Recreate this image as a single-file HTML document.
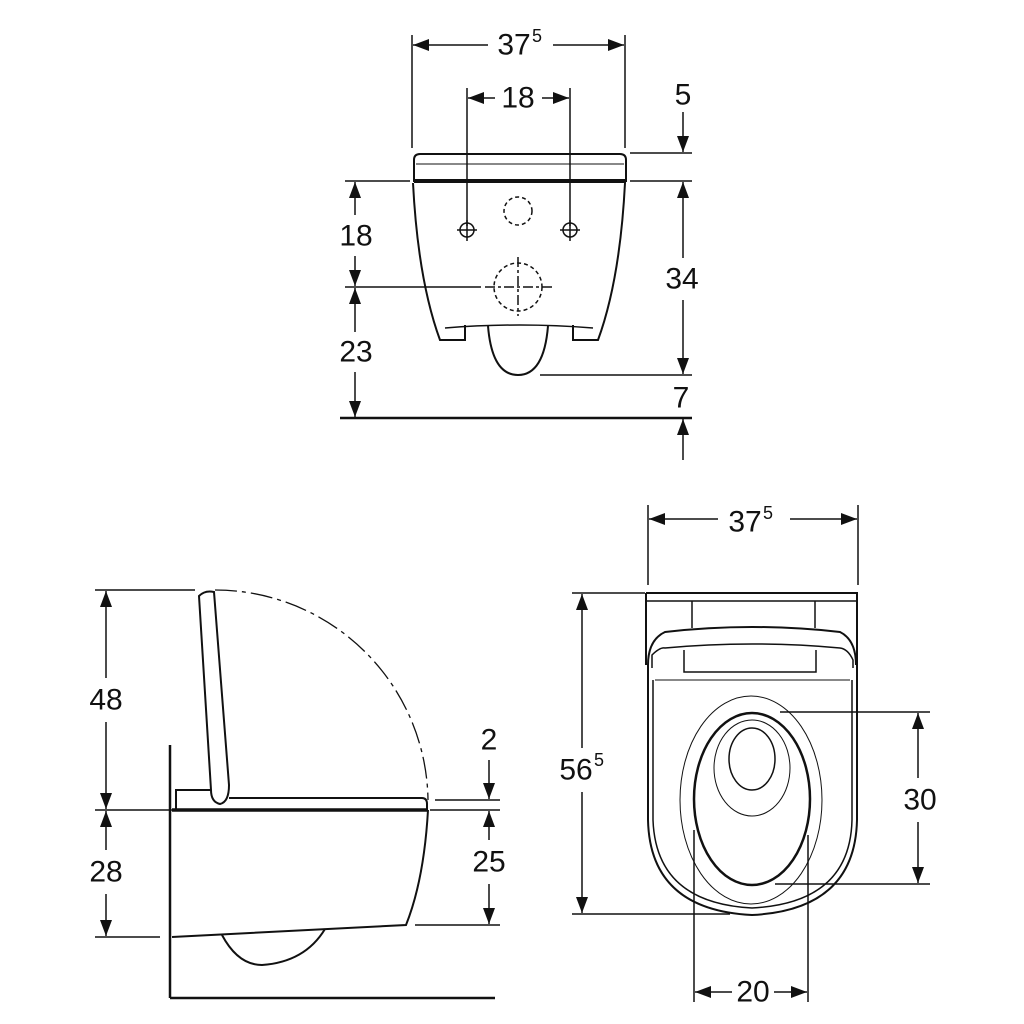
<!DOCTYPE html>
<html><head><meta charset="utf-8"><style>
html,body{margin:0;padding:0;background:#fff}
svg{display:block}
text{font-family:"Liberation Sans",sans-serif;font-size:30px;fill:#111;text-anchor:middle;dominant-baseline:central}
</style></head><body>
<svg width="1024" height="1024" viewBox="0 0 1024 1024" xmlns="http://www.w3.org/2000/svg">
<defs>
<marker id="a" viewBox="0 0 16 12" refX="16" refY="6" markerWidth="16" markerHeight="12" markerUnits="userSpaceOnUse" orient="auto-start-reverse"><path d="M0,0L16,6L0,12z" fill="#111"/></marker>
</defs>
<g stroke="#111" stroke-width="1.5" fill="none">
<!-- TOP VIEW -->
<line x1="412" y1="35" x2="412" y2="148"/><line x1="625" y1="35" x2="625" y2="148"/>
<line x1="413" y1="45" x2="488" y2="45" marker-start="url(#a)"/><line x1="553" y1="45" x2="624" y2="45" marker-end="url(#a)"/>
<line x1="467" y1="88" x2="467" y2="226"/><line x1="570" y1="88" x2="570" y2="226"/>
<line x1="468" y1="98" x2="495" y2="98" marker-start="url(#a)"/><line x1="542" y1="98" x2="569" y2="98" marker-end="url(#a)"/>
<path d="M414,181 V160 Q414,154 420,154 H620 Q626,154 626,160 V181 Z" stroke-width="2"/>
<line x1="414" y1="181" x2="626" y2="181" stroke-width="4"/>
<line x1="416" y1="164" x2="624" y2="164" stroke-width="1"/>
<path d="M413,183 Q418,280 440,340 H465 V325 M625,183 Q620,280 598,340 H573 V325" stroke-width="2"/>
<path d="M445,328 Q520,322 593,328" stroke-width="1.5"/>
<path d="M488,326 Q492,375 518,375 Q544,375 548,326" stroke-width="2"/>
<circle cx="518" cy="211" r="14" stroke-dasharray="4,3"/>
<circle cx="518" cy="287" r="24" stroke-dasharray="4,3"/>
<line x1="518" y1="257" x2="518" y2="316" stroke-dasharray="10,3,3,3"/>
<line x1="485" y1="287" x2="552" y2="287" stroke-dasharray="10,3,3,3"/>
<circle cx="467" cy="230" r="7"/><line x1="457" y1="230" x2="477" y2="230"/><line x1="467" y1="220" x2="467" y2="241"/>
<circle cx="570" cy="230" r="7"/><line x1="560" y1="230" x2="580" y2="230"/><line x1="570" y1="220" x2="570" y2="241"/>
<line x1="345" y1="181" x2="410" y2="181"/><line x1="345" y1="287" x2="481" y2="287"/>
<line x1="355" y1="182" x2="355" y2="215" marker-start="url(#a)"/><line x1="355" y1="256" x2="355" y2="286" marker-end="url(#a)"/>
<line x1="355" y1="288" x2="355" y2="332" marker-start="url(#a)"/><line x1="355" y1="372" x2="355" y2="417" marker-end="url(#a)"/>
<line x1="340" y1="418" x2="692" y2="418" stroke-width="2.5"/>
<line x1="630" y1="153" x2="692" y2="153"/><line x1="630" y1="181" x2="692" y2="181"/>
<line x1="683" y1="112" x2="683" y2="152" marker-end="url(#a)"/>
<line x1="683" y1="182" x2="683" y2="258" marker-start="url(#a)"/><line x1="683" y1="300" x2="683" y2="374" marker-end="url(#a)"/>
<line x1="540" y1="375" x2="692" y2="375"/>
<line x1="683" y1="460" x2="683" y2="419" marker-end="url(#a)"/>
<!-- SIDE VIEW -->
<line x1="95" y1="590" x2="195" y2="590"/><line x1="95" y1="810" x2="175" y2="810"/><line x1="95" y1="937" x2="160" y2="937"/>
<line x1="106" y1="591" x2="106" y2="678" marker-start="url(#a)"/><line x1="106" y1="722" x2="106" y2="809" marker-end="url(#a)"/>
<line x1="106" y1="811" x2="106" y2="850" marker-start="url(#a)"/><line x1="106" y1="894" x2="106" y2="936" marker-end="url(#a)"/>
<line x1="170" y1="745" x2="170" y2="998" stroke-width="2.5"/><line x1="170" y1="998" x2="495" y2="998" stroke-width="2.5"/>
<path d="M199,596 Q205,590 214,592 L229,785 Q229,802 220,804 Q211,802 211,790 Z" stroke-width="2"/>
<path d="M211,790 H176 V810" stroke-width="2"/>
<path d="M229,798 H422 Q427,798 427,804 V809" stroke-width="2"/>
<line x1="172" y1="810" x2="428" y2="810" stroke-width="3.5"/>
<path d="M428,810 Q424,880 406,925 L172,937" stroke-width="2"/>
<path d="M222,935 Q238,965 262,965 Q305,962 325,929" stroke-width="2"/>
<path d="M215,590 A213,213 0 0 1 428,800" stroke-dasharray="22,5,4,5" stroke-width="1.3"/>
<line x1="435" y1="800" x2="500" y2="800"/><line x1="430" y1="810" x2="500" y2="810"/><line x1="415" y1="925" x2="500" y2="925"/>
<line x1="489" y1="760" x2="489" y2="799" marker-end="url(#a)"/>
<line x1="489" y1="811" x2="489" y2="840" marker-start="url(#a)"/><line x1="489" y1="884" x2="489" y2="924" marker-end="url(#a)"/>
<!-- PLAN VIEW -->
<line x1="648" y1="505" x2="648" y2="585"/><line x1="858" y1="505" x2="858" y2="585"/>
<line x1="649" y1="519" x2="718" y2="519" marker-start="url(#a)"/><line x1="790" y1="519" x2="857" y2="519" marker-end="url(#a)"/>
<path d="M646,593 H857 V665 M646,593 V665" stroke-width="2"/>
<line x1="646" y1="601" x2="857" y2="601" stroke-width="1.5"/>
<path d="M692,601 V628 M815,601 V628"/>
<path d="M648,665 Q648,640 665,632 Q752,622 840,632 Q856,640 856,665" stroke-width="2"/>
<path d="M652,668 V655 Q660,647 665,648 Q752,640 840,648 Q848,649 853,660 V668" stroke-width="1.5"/>
<path d="M684,650 V672 H816 V650" stroke-width="1.5"/>
<path d="M648,665 V820 Q650,910 752,915 Q855,910 857,820 V665" stroke-width="2"/>
<path d="M653,680 V820 Q656,903 752,908 Q850,903 852,820 V680" stroke-width="1.5"/>
<line x1="655" y1="680" x2="850" y2="680" stroke-width="1"/>
<ellipse cx="751" cy="800" rx="71" ry="104" stroke-width="1"/>
<ellipse cx="752" cy="799" rx="58" ry="86" stroke-width="2.5"/>
<ellipse cx="752" cy="768" rx="38" ry="48" stroke-width="1"/>
<ellipse cx="752" cy="759" rx="23" ry="31" stroke-width="1.5"/>
<line x1="572" y1="593" x2="645" y2="593"/><line x1="572" y1="914" x2="730" y2="914"/>
<line x1="582" y1="594" x2="582" y2="748" marker-start="url(#a)"/><line x1="582" y1="792" x2="582" y2="913" marker-end="url(#a)"/>
<line x1="780" y1="712" x2="930" y2="712"/><line x1="775" y1="884" x2="930" y2="884"/>
<line x1="918" y1="713" x2="918" y2="778" marker-start="url(#a)"/><line x1="918" y1="822" x2="918" y2="883" marker-end="url(#a)"/>
<line x1="694" y1="830" x2="694" y2="1002"/><line x1="808" y1="835" x2="808" y2="1002"/>
<line x1="695" y1="992" x2="732" y2="992" marker-start="url(#a)"/><line x1="774" y1="992" x2="807" y2="992" marker-end="url(#a)"/>
</g>
<text x="514" y="45">37</text><text x="537" y="36" style="font-size:18px">5</text>
<text x="518" y="98">18</text>
<text x="683" y="95">5</text>
<text x="356" y="236">18</text>
<text x="356" y="352">23</text>
<text x="682" y="279">34</text>
<text x="681" y="398">7</text>
<text x="106" y="700">48</text>
<text x="106" y="872">28</text>
<text x="489" y="740">2</text>
<text x="489" y="862">25</text>
<text x="745" y="522">37</text><text x="768" y="513" style="font-size:18px">5</text>
<text x="576" y="770">56</text><text x="599" y="760" style="font-size:18px">5</text>
<text x="920" y="800">30</text>
<text x="753" y="992">20</text>
</svg>
</body></html>
